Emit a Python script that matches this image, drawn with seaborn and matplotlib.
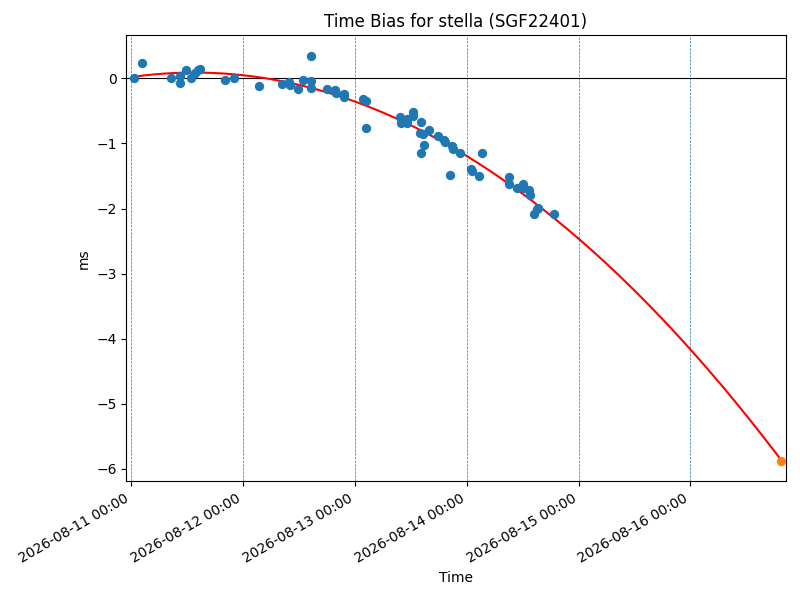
import numpy as np
import pandas as pd
import matplotlib
matplotlib.use("Agg")
import matplotlib.pyplot as plt
import matplotlib.dates as mdates
import seaborn as sns

start = pd.Timestamp("2026-08-11 00:00")

# measurement times (days after start) and time bias in ms
obs_days = [0.03, 0.10, 0.36, 0.44, 0.44, 0.49, 0.54, 0.57, 0.60, 0.62,
            0.84, 0.92, 1.14, 1.35, 1.41, 1.42, 1.49, 1.54, 1.61, 1.61,
            1.61, 1.75, 1.82, 1.83, 1.90, 1.90, 2.07, 2.10, 2.10, 2.40,
            2.41, 2.47, 2.47, 2.52, 2.52, 2.59, 2.58, 2.61, 2.66, 2.62,
            2.59, 2.74, 2.80, 2.81, 2.87, 2.88, 2.85, 2.94, 3.04, 3.05,
            3.14, 3.11, 3.38, 3.38, 3.45, 3.50, 3.51, 3.56, 3.57, 3.63,
            3.60, 3.64, 3.78]
obs_bias = [0.01, 0.23, 0.00, 0.04, -0.07, 0.13, 0.01, 0.09, 0.13, 0.15,
            -0.02, 0.00, -0.11, -0.09, -0.06, -0.10, -0.17, -0.03, 0.35, -0.04,
            -0.14, -0.16, -0.18, -0.22, -0.24, -0.28, -0.31, -0.35, -0.76, -0.60,
            -0.68, -0.68, -0.63, -0.51, -0.58, -0.67, -0.84, -0.86, -0.80, -1.02,
            -1.15, -0.88, -0.94, -0.97, -1.04, -1.08, -1.48, -1.15, -1.39, -1.42,
            -1.15, -1.50, -1.51, -1.63, -1.68, -1.62, -1.68, -1.72, -1.79, -2.01,
            -2.08, -1.99, -2.08]

pred_day = 5.805
pred_bias = -5.88

df = pd.DataFrame({
    "Time": start + pd.to_timedelta(obs_days, unit="D"),
    "ms": obs_bias,
})

# quadratic fit through the measurements, drawn up to the prediction time
coef = np.polyfit(obs_days, obs_bias, 2)
t_fit = np.linspace(min(obs_days), pred_day, 200)
fit = pd.DataFrame({
    "Time": start + pd.to_timedelta(t_fit, unit="D"),
    "ms": np.polyval(coef, t_fit),
})
pred = pd.DataFrame({
    "Time": [start + pd.to_timedelta(pred_day, unit="D")],
    "ms": [pred_bias],
})

fig, ax = plt.subplots(figsize=(8, 6), dpi=100)

for d in range(6):
    ax.axvline(start + pd.Timedelta(days=d), color="C0", linestyle="--", linewidth=0.5)
ax.axhline(0, color="black", linewidth=0.8)

sns.scatterplot(data=df, x="Time", y="ms", color="C0", s=45, linewidth=0, ax=ax, zorder=3)
sns.lineplot(data=fit, x="Time", y="ms", color="red", linewidth=1.5, ax=ax, zorder=2)
sns.scatterplot(data=pred, x="Time", y="ms", color="C1", s=45, linewidth=0, ax=ax, zorder=3)

ax.set_xlim(start - pd.Timedelta(days=0.041), start + pd.Timedelta(days=5.85))
ax.xaxis.set_major_locator(mdates.DayLocator())
ax.xaxis.set_major_formatter(mdates.DateFormatter("%Y-%m-%d %H:%M"))
ax.set_title("Time Bias for stella (SGF22401)")
ax.set_xlabel("Time")
ax.set_ylabel("ms")
fig.autofmt_xdate()

fig.subplots_adjust(left=0.158, right=0.982, top=0.941, bottom=0.198)
fig.savefig("out.png")
